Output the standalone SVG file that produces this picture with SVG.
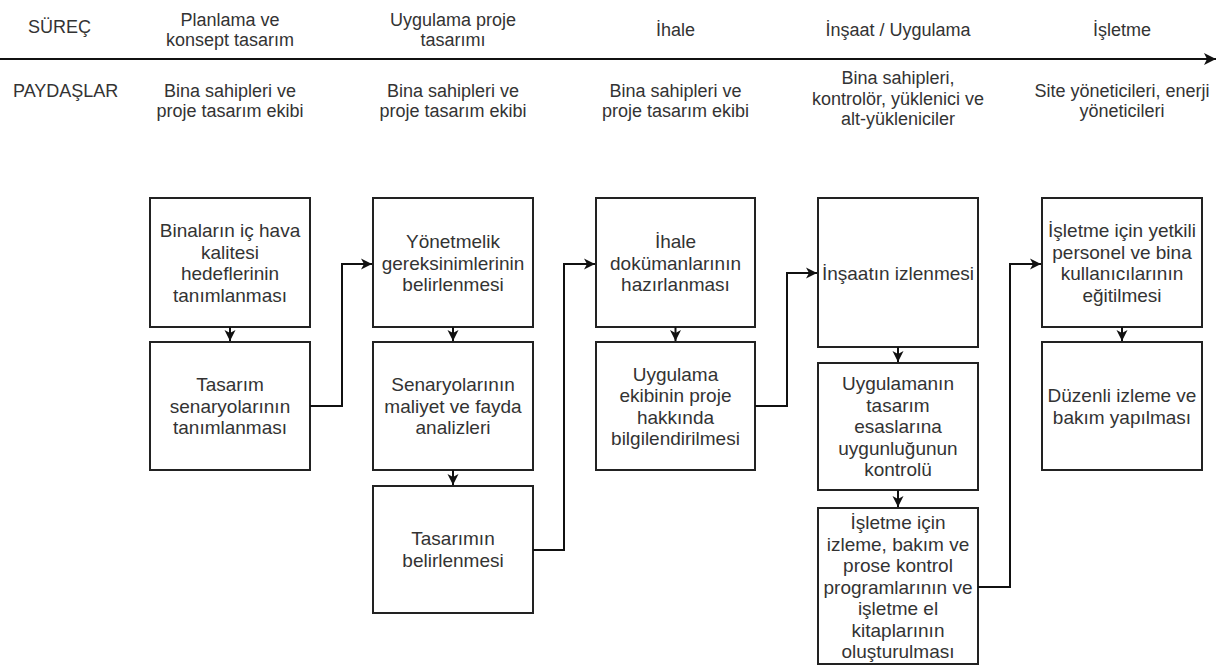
<svg xmlns="http://www.w3.org/2000/svg" width="1227" height="666" viewBox="0 0 1227 666">
<style>
  .hd { font-family: "Liberation Sans", Arial, sans-serif; font-size: 18px; fill: #333; text-anchor: middle; }
  .lbl { font-family: "Liberation Sans", Arial, sans-serif; font-size: 18px; fill: #333; }
  .bt { font-family: "Liberation Sans", Arial, sans-serif; font-size: 19px; fill: #333; text-anchor: middle; }
  .box { fill: #fff; stroke: #222; stroke-width: 2; }
  .edge { fill: none; stroke: #111; stroke-width: 2; }
</style>
<defs>
  <marker id="ah" markerWidth="12" markerHeight="12" refX="11" refY="6" orient="auto" markerUnits="userSpaceOnUse">
    <path d="M0,0.5 L11,6 L0,11.5 L3,6 Z" fill="#111"/>
  </marker>
  <marker id="ahs" markerWidth="13" markerHeight="13" refX="12" refY="6.5" orient="auto" markerUnits="userSpaceOnUse">
    <path d="M0,0.5 L12,6.5 L0,12.5 L3,6.5 Z" fill="#111"/>
  </marker>
</defs>
<rect width="1227" height="666" fill="#fff"/>

<g id="header">
  <text class="lbl" x="28" y="33">SÜREÇ</text>
  <text class="lbl" x="13" y="97">PAYDAŞLAR</text>
  <text class="hd" x="230" y="26">Planlama ve</text>
  <text class="hd" x="230" y="46">konsept tasarım</text>
  <text class="hd" x="453" y="26">Uygulama proje</text>
  <text class="hd" x="453" y="46">tasarımı</text>
  <text class="hd" x="675.5" y="36">İhale</text>
  <text class="hd" x="898" y="36">İnşaat / Uygulama</text>
  <text class="hd" x="1122" y="36">İşletme</text>
  <text class="hd" x="230" y="97">Bina sahipleri ve</text>
  <text class="hd" x="230" y="117">proje tasarım ekibi</text>
  <text class="hd" x="453" y="97">Bina sahipleri ve</text>
  <text class="hd" x="453" y="117">proje tasarım ekibi</text>
  <text class="hd" x="675.5" y="97">Bina sahipleri ve</text>
  <text class="hd" x="675.5" y="117">proje tasarım ekibi</text>
  <text class="hd" x="898" y="84">Bina sahipleri,</text>
  <text class="hd" x="898" y="104.5">kontrolör, yüklenici ve</text>
  <text class="hd" x="898" y="125">alt-yükleniciler</text>
  <text class="hd" x="1122" y="97">Site yöneticileri, enerji</text>
  <text class="hd" x="1122" y="117">yöneticileri</text>
</g>

<g id="n1"><rect class="box" x="150" y="198" width="160" height="129"/>
  <text class="bt" x="230" y="237">Binaların iç hava</text>
  <text class="bt" x="230" y="258.5">kalitesi</text>
  <text class="bt" x="230" y="280">hedeflerinin</text>
  <text class="bt" x="230" y="301.5">tanımlanması</text></g>
<g id="n2"><rect class="box" x="150" y="342" width="160" height="128"/>
  <text class="bt" x="230" y="391">Tasarım</text>
  <text class="bt" x="230" y="412.5">senaryolarının</text>
  <text class="bt" x="230" y="434">tanımlanması</text></g>

<g id="n3"><rect class="box" x="373" y="198" width="160" height="129"/>
  <text class="bt" x="453" y="248">Yönetmelik</text>
  <text class="bt" x="453" y="269.5">gereksinimlerinin</text>
  <text class="bt" x="453" y="291">belirlenmesi</text></g>
<g id="n4"><rect class="box" x="373" y="342" width="160" height="128"/>
  <text class="bt" x="453" y="391">Senaryolarının</text>
  <text class="bt" x="453" y="412.5">maliyet ve fayda</text>
  <text class="bt" x="453" y="434">analizleri</text></g>
<g id="n5"><rect class="box" x="373" y="486" width="160" height="127"/>
  <text class="bt" x="453" y="545">Tasarımın</text>
  <text class="bt" x="453" y="566.5">belirlenmesi</text></g>

<g id="n6"><rect class="box" x="596" y="198" width="159" height="129"/>
  <text class="bt" x="675.5" y="248">İhale</text>
  <text class="bt" x="675.5" y="269.5">dokümanlarının</text>
  <text class="bt" x="675.5" y="291">hazırlanması</text></g>
<g id="n7"><rect class="box" x="596" y="342" width="159" height="128"/>
  <text class="bt" x="675.5" y="380.5">Uygulama</text>
  <text class="bt" x="675.5" y="402">ekibinin proje</text>
  <text class="bt" x="675.5" y="423.5">hakkında</text>
  <text class="bt" x="675.5" y="445">bilgilendirilmesi</text></g>

<g id="n8"><rect class="box" x="818" y="198" width="160" height="149"/>
  <text class="bt" x="898" y="280">İnşaatın izlenmesi</text></g>
<g id="n9"><rect class="box" x="818" y="363" width="160" height="127"/>
  <text class="bt" x="898" y="390">Uygulamanın</text>
  <text class="bt" x="898" y="411.5">tasarım</text>
  <text class="bt" x="898" y="433">esaslarına</text>
  <text class="bt" x="898" y="454.5">uygunluğunun</text>
  <text class="bt" x="898" y="476">kontrolü</text></g>
<g id="n10"><rect class="box" x="818" y="508" width="160" height="156"/>
  <text class="bt" x="898" y="529">İşletme için</text>
  <text class="bt" x="898" y="550.5">izleme, bakım ve</text>
  <text class="bt" x="898" y="572">prose kontrol</text>
  <text class="bt" x="898" y="593.5">programlarının ve</text>
  <text class="bt" x="898" y="615">işletme el</text>
  <text class="bt" x="898" y="636.5">kitaplarının</text>
  <text class="bt" x="898" y="658">oluşturulması</text></g>

<g id="n11"><rect class="box" x="1042" y="198" width="160" height="129"/>
  <text class="bt" x="1122" y="237">İşletme için yetkili</text>
  <text class="bt" x="1122" y="258.5">personel ve bina</text>
  <text class="bt" x="1122" y="280">kullanıcılarının</text>
  <text class="bt" x="1122" y="301.5">eğitilmesi</text></g>
<g id="n12"><rect class="box" x="1042" y="342" width="160" height="128"/>
  <text class="bt" x="1122" y="402">Düzenli izleme ve</text>
  <text class="bt" x="1122" y="423.5">bakım yapılması</text></g>

<g id="connectors">
  <line class="edge" x1="0" y1="59" x2="1216" y2="59" marker-end="url(#ahs)"/>
  <line class="edge" x1="230" y1="327" x2="230" y2="341" marker-end="url(#ah)"/>
  <line class="edge" x1="453" y1="327" x2="453" y2="341" marker-end="url(#ah)"/>
  <line class="edge" x1="453" y1="470" x2="453" y2="485" marker-end="url(#ah)"/>
  <line class="edge" x1="675.5" y1="327" x2="675.5" y2="341" marker-end="url(#ah)"/>
  <line class="edge" x1="898" y1="347" x2="898" y2="362" marker-end="url(#ah)"/>
  <line class="edge" x1="898" y1="490" x2="898" y2="507" marker-end="url(#ah)"/>
  <line class="edge" x1="1122" y1="327" x2="1122" y2="341" marker-end="url(#ah)"/>
  <polyline class="edge" points="310,406 342,406 342,264 372,264" marker-end="url(#ah)"/>
  <polyline class="edge" points="533,550 564,550 564,264 595,264" marker-end="url(#ah)"/>
  <polyline class="edge" points="755,406 787,406 787,273 817,273" marker-end="url(#ah)"/>
  <polyline class="edge" points="978,587 1010,587 1010,264 1041,264" marker-end="url(#ah)"/>
</g>
</svg>
